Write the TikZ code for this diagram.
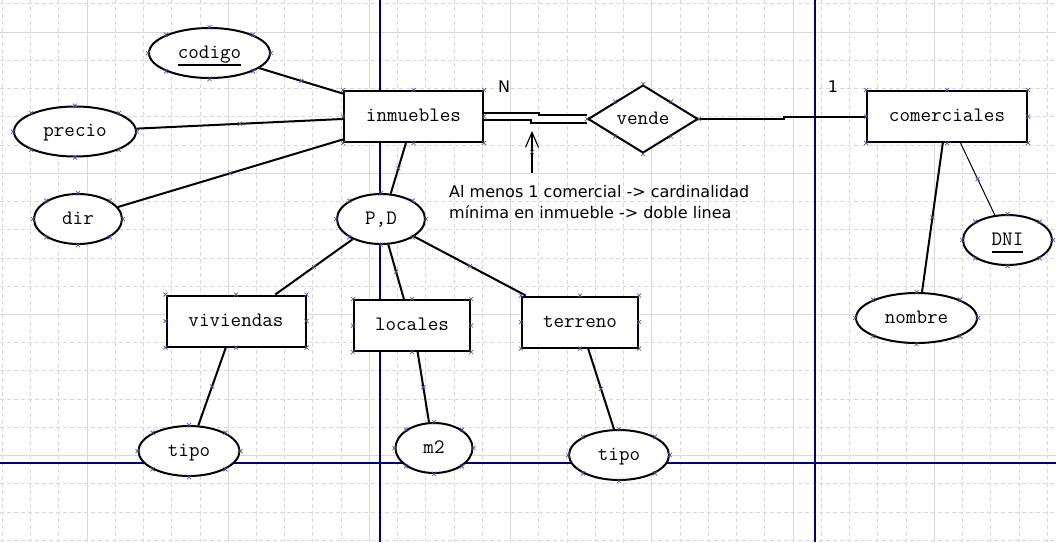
\documentclass[tikz,border=0pt]{standalone}
\usepackage{fontspec}
\newfontfamily\notefont{DejaVu Sans}
\usetikzlibrary{shapes.geometric,arrows.meta,decorations.markings}

\definecolor{gridgray}{RGB}{216,216,216}
\definecolor{pageblue}{RGB}{0,0,120}
\definecolor{handleblue}{RGB}{80,80,170}

\newcommand{\pk}[1]{\setbox0\hbox{#1}\rlap{\smash{\rule[-7.5pt]{\wd0}{2pt}}}\box0}
\newcommand{\handles}[1]{\foreach \anc in {north,south,east,west,north east,north west,south east,south west}{\draw[handle] (#1.\anc) +(-2,-2) -- +(2,2) +(-2,2) -- +(2,-2);}}

\tikzset{
        entity/.style={draw, fill=white, line width=2pt, inner sep=0pt, minimum height=51pt, text height=13pt, text depth=3pt, font=\ttfamily\fontsize{20.5}{22}\selectfont},
        attr/.style={entity, ellipse, minimum height=50pt},
        rel/.style={entity, diamond, aspect=1.6, minimum width=110pt, minimum height=68pt},
        handle/.style={-, handleblue, line width=0.7pt},
        mid/.style={postaction={decorate, decoration={markings, mark=at position 0.5 with {\pgftransformresetnontranslations \draw[handle] (-2,-2) -- (2,2) (-2,2) -- (2,-2);}}}},
        link/.style={line width=2pt, mid},
        minor/.style={gridgray, line width=0.9pt, dash pattern=on 4pt off 3pt},
        major/.style={gridgray, line width=0.9pt},
        page/.style={pageblue, line width=1.1pt},
        card/.style={font=\notefont\fontsize{16}{18}\selectfont, inner sep=0pt},
        note/.style={font=\notefont\fontsize{16}{21.5}\selectfont, align=left, inner sep=0pt}
}

\begin{document}
\begin{tikzpicture}[x=1pt, y=-1pt]
        \useasboundingbox (0,0) rectangle (1056,542);
        \fill[white] (0,0) rectangle (1056,542);
        \foreach \i in {0,...,37} \draw[minor] ({2.3+28.24*\i},0) -- ++(0,542);
        \foreach \j in {0,...,19} \draw[minor] (0,{3.8+28.24*\j}) -- ++(1056,0);
        \foreach \i in {0,...,6} \draw[major] ({87+141.2*\i},0) -- ++(0,542);
        \foreach \j in {0,...,3} \draw[major] (0,{32+141.2*\j}) -- ++(1056,0);
        \draw[page] (380,0) -- (380,542) (815,0) -- (815,542) (0,463) -- (1056,463);

        \node[entity, minimum width=139pt] (inmuebles) at (413.5,116.5) {inmuebles};
        \node[entity, minimum width=160pt] (comerciales) at (947,116.5) {comerciales};
        \node[entity, minimum width=139pt] (viviendas) at (236,321) {viviendas};
        \node[entity, minimum width=116pt] (locales) at (412,325.5) {locales};
        \node[entity, minimum width=116pt] (terreno) at (580,322) {terreno};
        \node[rel] (vende) at (643,119) {vende};
        \node[attr, minimum width=121pt] (codigo) at (209.5,53) {\pk{codigo}};
        \node[attr, minimum width=122pt] (precio) at (75,131.5) {precio};
        \node[attr, minimum width=88pt] (dir) at (78,219) {dir};
        \node[attr, minimum width=88pt] (pd) at (381,219) {P,D};
        \node[attr, minimum width=101pt] (tipoviv) at (189,451) {tipo};
        \node[attr, minimum width=77pt] (m2) at (434,448) {m2};
        \node[attr, minimum width=100pt] (tipoter) at (619,455) {tipo};
        \node[attr, minimum width=121pt] (nombre) at (916.5,318) {nombre};
        \node[attr, minimum width=89pt] (dni) at (1007.5,240) {\pk{DNI}};

        \draw[link] (codigo) -- (inmuebles.162);
        \draw[link] (precio) -- (inmuebles.182);
        \draw[link] (dir) -- (inmuebles.198);
        \draw[link] (inmuebles.254) -- (pd.69);
        \draw[link] (pd) -- (viviendas.34);
        \draw[link] (pd) -- (locales.107);
        \draw[link] (pd) -- (terreno.154);
        \draw[link] (viviendas.249) -- (tipoviv.70);
        \draw[link] (locales.282) -- (m2.101);
        \draw[link] (terreno.287) -- (tipoter.101);
        \draw[link] (comerciales.261) -- (nombre.78);
        \draw[line width=1pt, mid] (comerciales.297) -- (dni.117);
        \draw[line width=2pt, double, double distance=5.3pt] (inmuebles.east) -- ++(51,0) |- (vende.west);
        \draw[line width=2pt] (vende.east) -- ++(85,0) |- (comerciales.west);

        \node[card] (n) at (504,87) {N};
        \node[card] (uno) at (833,87) {1};
        \node[note, anchor=base west] (nota) at (449,218.5) {Al menos 1 comercial -> cardinalidad\\mínima en inmueble -> doble linea};
        \coordinate (cola) at (532,173);
        \coordinate (punta) at (532,131);
        \draw[line width=1.1pt, mid, -{Straight Barb[length=15pt, width=13pt]}] (cola) -- (punta);

        \foreach \nd in {inmuebles,comerciales,viviendas,locales,terreno,vende,codigo,precio,dir,pd,tipoviv,m2,tipoter,nombre,dni} \handles{\nd};
\end{tikzpicture}
\end{document}
